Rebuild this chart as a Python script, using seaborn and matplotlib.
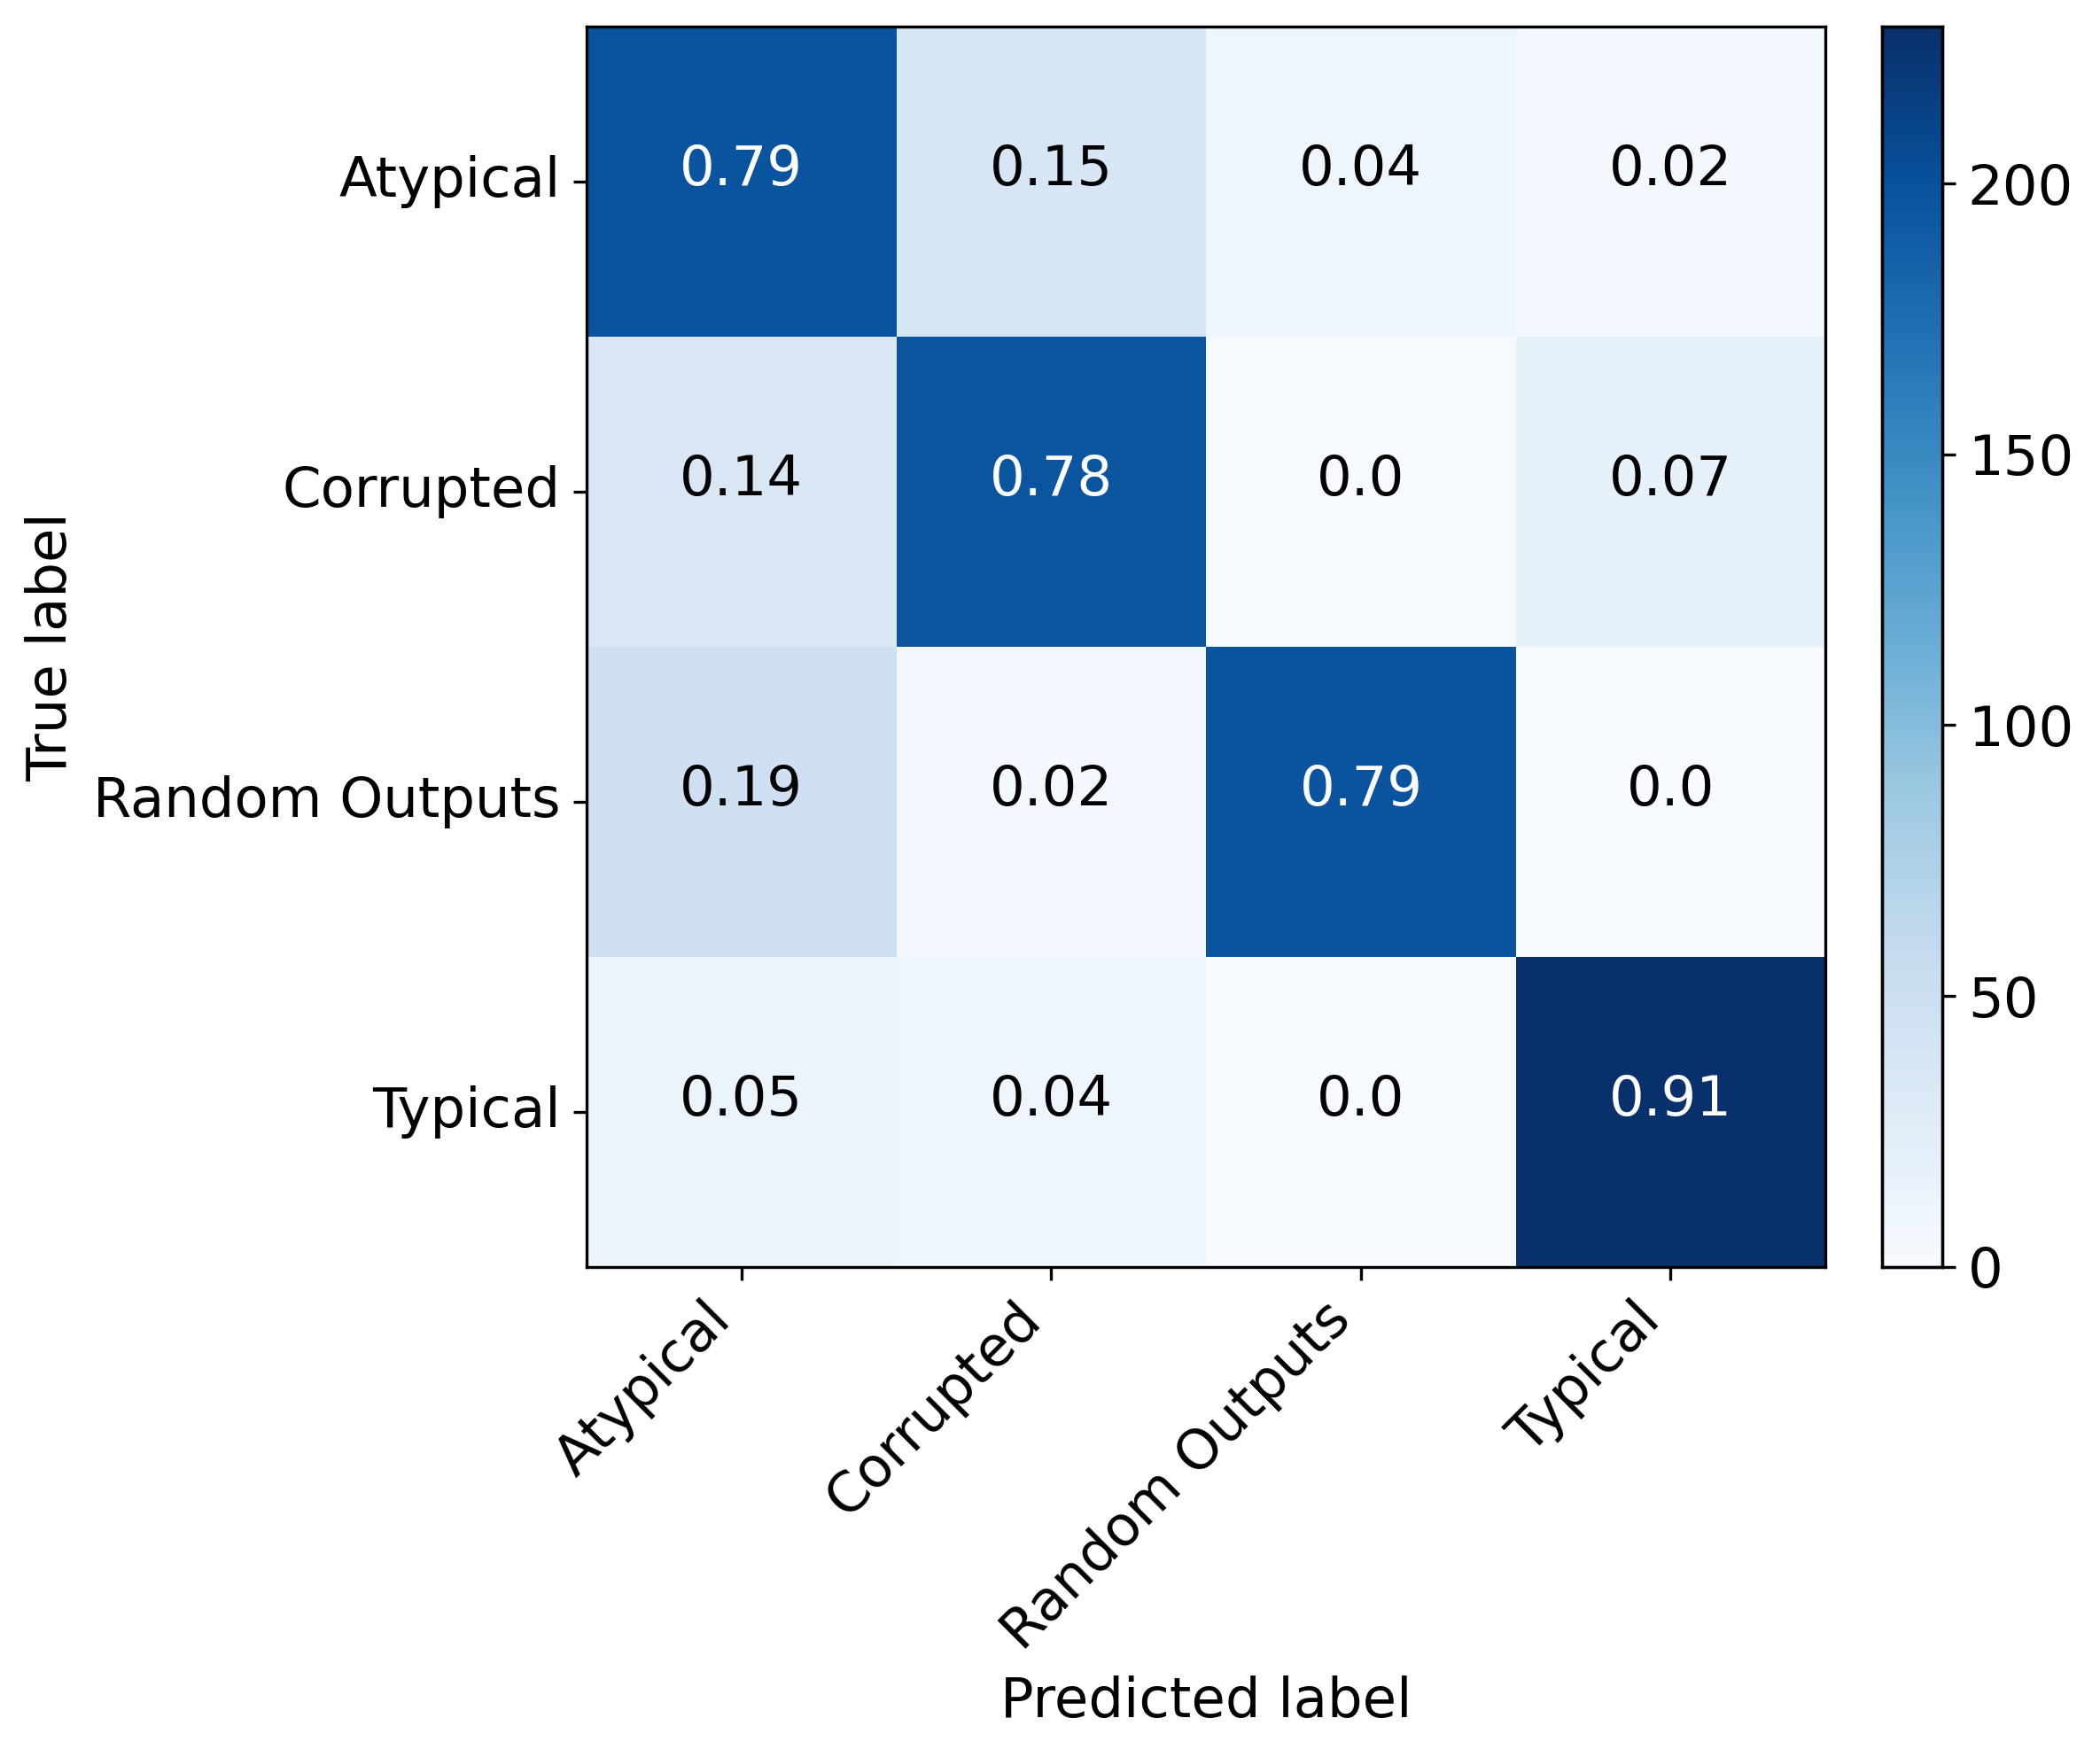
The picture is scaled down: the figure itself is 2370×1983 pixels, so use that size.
import numpy as np
import seaborn as sns
import matplotlib.pyplot as plt

# class names and confusion matrix
class_names = ['Atypical', 'Corrupted', 'Random Outputs', 'Typical']

# raw counts (drive the colours)
counts = np.array([
    [198, 38, 10, 5],
    [35, 196, 1, 18],
    [48, 5, 198, 0],
    [13, 10, 0, 229],
])

# row-normalised values shown in the cells
norm_values = [
    [0.79, 0.15, 0.04, 0.02],
    [0.14, 0.78, 0.0, 0.07],
    [0.19, 0.02, 0.79, 0.0],
    [0.05, 0.04, 0.0, 0.91],
]
cell_text = np.array([[str(v) for v in row] for row in norm_values])

cbar_ticks = [0, 50, 100, 150, 200]

plt.rcParams['font.family'] = ['DejaVu Sans']
plt.rcParams['font.size'] = 15

fig = plt.figure(figsize=(7.9, 6.61), dpi=300)
ax = fig.add_axes([0.2793, 0.279, 0.590, 0.706])
cax = fig.add_axes([0.896, 0.279, 0.0287, 0.706])

sns.heatmap(counts, ax=ax, cbar_ax=cax, cmap='Blues', vmin=0, vmax=counts.max(),
            annot=cell_text, fmt='', annot_kws={'fontsize': 15},
            xticklabels=class_names, yticklabels=class_names,
            cbar_kws={'ticks': cbar_ticks})

# text colour like sklearn: white on dark cells, black elsewhere
thresh = counts.max() / 2
for txt, val in zip(ax.texts, counts.flatten()):
    txt.set_color('white' if val > thresh else 'black')
    x, y = txt.get_position()
    txt.set_position((x, y - 0.035))

for side in ['top', 'bottom', 'left', 'right']:
    ax.spines[side].set_visible(True)
    ax.spines[side].set_color('black')
    ax.spines[side].set_linewidth(0.8)

ax.tick_params(axis='both', which='both', length=3.5, width=0.8, labelsize=15,
               bottom=True, left=True)
plt.setp(ax.get_xticklabels(), rotation=45, ha='right')
plt.setp(ax.get_yticklabels(), rotation=0)

ax.set_xlabel('Predicted label', fontsize=15)
ax.set_ylabel('True label', fontsize=15)

cax.tick_params(labelsize=15, length=3.5, width=0.8)
for side in cax.spines:
    cax.spines[side].set_visible(True)
    cax.spines[side].set_linewidth(0.8)

plt.savefig('out.png', dpi=300)
